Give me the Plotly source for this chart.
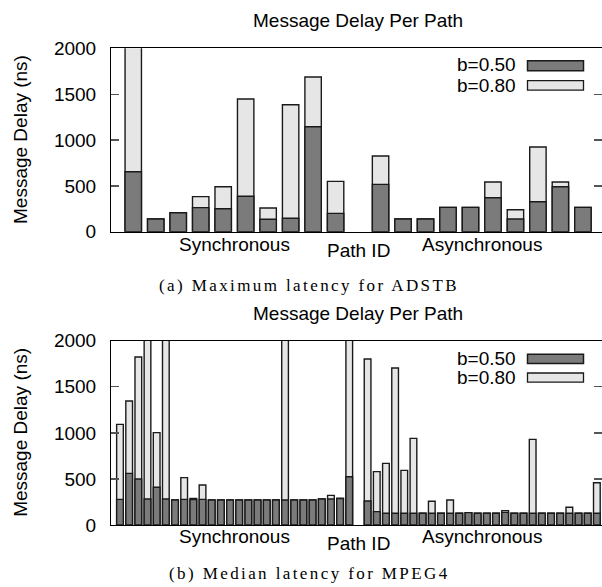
import plotly.graph_objects as go

# ---------------- data ----------------
# (a) Maximum latency for ADSTB
adstb_sync_b50 = [654, 138, 207, 262, 251, 386, 135, 146, 1145, 200]
adstb_sync_b80 = [2200, 138, 207, 382, 491, 1447, 258, 1385, 1687, 549]
adstb_async_b50 = [516, 138, 138, 265, 265, 371, 138, 327, 491, 265]
adstb_async_b80 = [825, 138, 138, 265, 265, 542, 240, 924, 542, 265]

# (b) Median latency for MPEG4
mpeg4_sync_b50 = [278, 560, 499, 282, 409, 282, 271, 278, 275, 278, 271, 271, 271,
                  271, 271, 271, 271, 271, 271, 271, 271, 271, 282, 282, 286, 524]
mpeg4_sync_b80 = [1092, 1345, 1823, 2200, 1002, 2200, 271, 514, 289, 434, 271, 271, 271,
                  271, 271, 271, 271, 271, 2200, 271, 271, 271, 282, 322, 290, 2200]
mpeg4_async_b50 = [260, 145, 127, 127, 127, 127, 127, 127, 127, 127, 127, 134, 127,
                   127, 127, 137, 127, 127, 127, 127, 127, 127, 127, 127, 127, 127]
mpeg4_async_b80 = [1801, 579, 669, 1704, 593, 940, 127, 257, 127, 271, 127, 134, 127,
                   127, 127, 156, 127, 127, 929, 127, 127, 127, 192, 127, 127, 459]

series_names = ["b=0.50", "b=0.80"]
y_ticks = [0, 500, 1000, 1500, 2000]
title_text = "Message Delay Per Path"
y_title = "Message Delay (ns)"
x_title = "Path ID"
group_labels = ["Synchronous", "Asynchronous"]
captions = ["(a) Maximum latency for ADSTB", "(b) Median latency for MPEG4"]

DARK = "#7b7b7b"
LIGHT = "#e6e6e6"
EDGE = "#1a1a1a"
SANS = "Liberation Sans, Arial, sans-serif"
SERIF = "Liberation Serif, Times New Roman, serif"
FS = 19

W, H = 602, 587


def px(x):
    return x / W


def py(y):
    return 1 - y / H


fig = go.Figure()


def positions(sync, asyn):
    n = len(sync)
    xs = list(range(n))
    xa = [n + 1 + i for i in range(len(asyn))]
    return xs + xa


panels = [
    dict(sync50=adstb_sync_b50, sync80=adstb_sync_b80, async50=adstb_async_b50,
         async80=adstb_async_b80, xa="x", ya="y"),
    dict(sync50=mpeg4_sync_b50, sync80=mpeg4_sync_b80, async50=mpeg4_async_b50,
         async80=mpeg4_async_b80, xa="x2", ya="y2"),
]

for p in panels:
    xpos = positions(p["sync50"], p["async50"])
    # light (b=0.80) drawn first, dark (b=0.50) on top
    fig.add_trace(go.Bar(x=xpos, y=p["sync80"] + p["async80"], name=series_names[1],
                         width=0.73, marker=dict(color=LIGHT, line=dict(color=EDGE, width=1.4)),
                         xaxis=p["xa"], yaxis=p["ya"], showlegend=False))
    fig.add_trace(go.Bar(x=xpos, y=p["sync50"] + p["async50"], name=series_names[0],
                         width=0.73, marker=dict(color=DARK, line=dict(color=EDGE, width=1.4)),
                         xaxis=p["xa"], yaxis=p["ya"], showlegend=False))

# plot area geometry (pixels)
top_box = (48.3, 231.7)
bot_box = (340.7, 525.0)
left_px = 111

xaxis_common = dict(showticklabels=False, ticks="", showgrid=False, zeroline=False,
                    showline=True, linecolor="black", linewidth=1, mirror=True,
                    automargin=False)
yaxis_common = dict(range=[0, 2000], tickvals=y_ticks, ticks="inside", ticklen=8,
                    tickcolor="#555", tickwidth=1.3, showgrid=False, zeroline=False,
                    showline=True, linecolor="black", linewidth=1, mirror="ticks",
                    tickfont=dict(family=SANS, size=FS, color="black"),
                    ticklabelstandoff=10, automargin=False)

fig.update_layout(
    width=W, height=H, autosize=False,
    margin=dict(l=0, r=0, t=0, b=0, pad=0, autoexpand=False),
    paper_bgcolor="white", plot_bgcolor="white",
    showlegend=False,
    barmode="overlay", bargap=0,
    xaxis=dict(domain=[px(left_px), 1], range=[-0.99, 20.85], anchor="y", **xaxis_common),
    yaxis=dict(domain=[py(top_box[1]), py(top_box[0])], anchor="x", **yaxis_common),
    xaxis2=dict(domain=[px(left_px), 1], range=[-0.98, 52.56], anchor="y2", **xaxis_common),
    yaxis2=dict(domain=[py(bot_box[1]), py(bot_box[0])], anchor="x2", **yaxis_common),
)

annotations = []
shapes = []


def text(x, y, s, size=FS, family=SANS, xanchor="center", angle=0):
    annotations.append(dict(x=px(x), y=py(y), xref="paper", yref="paper", text=s,
                            showarrow=False, xanchor=xanchor, yanchor="middle",
                            textangle=angle, borderpad=0,
                            font=dict(family=family, size=size, color="black")))


spaced = '<span style="letter-spacing:2.4px">{}</span>'

for (t, b), (ty, gy, py_id, cy, c), leg in zip(
        [top_box, bot_box],
        [(20, 244.3, 250.7, 285, captions[0]), (313.3, 536.7, 543.3, 573.3, captions[1])],
        [(65, 85, 60.7, 70.7, 80.7, 90.2), (358.5, 378, 354.3, 363.5, 373.0, 382.2)]):
    text(358, ty, title_text)
    text(21, (t + b) / 2, y_title, angle=-90)
    text(234, gy, group_labels[0])
    text(481.5, gy, group_labels[1])
    text(358.5, py_id, x_title)
    text(309, cy, spaced.format(c), size=17, family=SERIF)
    # legend keys
    text(516.5, leg[0], series_names[0], xanchor="right")
    text(516.5, leg[1], series_names[1], xanchor="right")
    shapes.append(dict(type="rect", xref="paper", yref="paper",
                       x0=px(527.5), x1=px(583.5), y0=py(leg[3]), y1=py(leg[2]),
                       fillcolor=DARK, line=dict(color=EDGE, width=1.5)))
    shapes.append(dict(type="rect", xref="paper", yref="paper",
                       x0=px(527.5), x1=px(583.5), y0=py(leg[5]), y1=py(leg[4]),
                       fillcolor=LIGHT, line=dict(color=EDGE, width=1.3)))

fig.update_layout(annotations=annotations, shapes=shapes)

fig.write_html("out.html",
               config={"displayModeBar": False, "staticPlot": True},
               post_script="document.body.style.margin='0px';"
                           "document.body.style.padding='0px';"
                           "document.body.style.overflow='hidden';")
